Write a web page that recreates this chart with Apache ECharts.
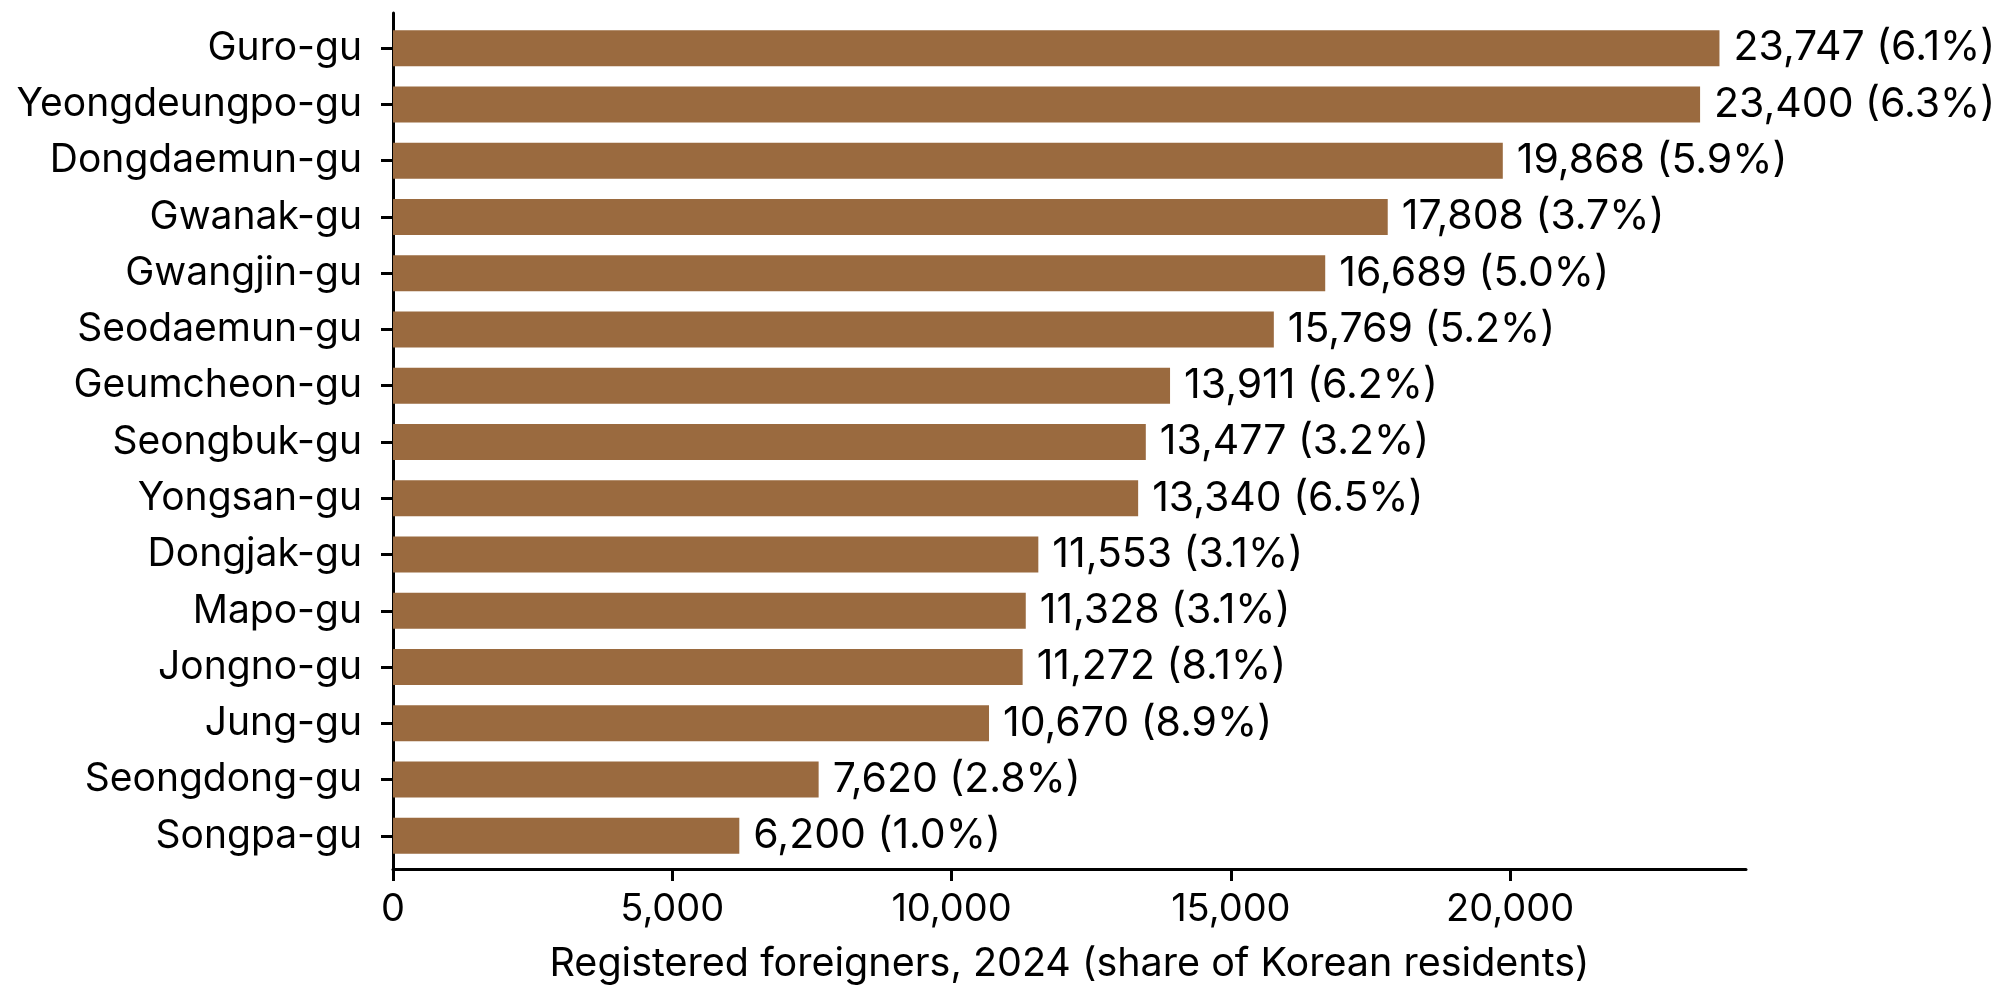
<!DOCTYPE html>
<html>
<head>
<meta charset="utf-8">
<script src="https://cdn.jsdelivr.net/npm/echarts@6/dist/echarts.min.js"></script>
<style>
  html, body { margin: 0; padding: 0; background: #fff; }
  #chart1 { width: 2007px; height: 1004px; }
</style>
</head>
<body>
<div id="chart1"></div>
<script>
// data
var districts = ['Guro-gu', 'Yeongdeungpo-gu', 'Dongdaemun-gu', 'Gwanak-gu', 'Gwangjin-gu',
  'Seodaemun-gu', 'Geumcheon-gu', 'Seongbuk-gu', 'Yongsan-gu', 'Dongjak-gu',
  'Mapo-gu', 'Jongno-gu', 'Jung-gu', 'Seongdong-gu', 'Songpa-gu'];
var foreigners = [23747, 23400, 19868, 17808, 16689, 15769, 13911, 13477, 13340, 11553,
  11328, 11272, 10670, 7620, 6200];
var shares = [6.1, 6.3, 5.9, 3.7, 5.0, 5.2, 6.2, 3.2, 6.5, 3.1, 3.1, 8.1, 8.9, 2.8, 1.0];
var xTicks = [0, 5000, 10000, 15000, 20000];
var xMax = 24222;

function commas(n) {
  return String(n).replace(/\B(?=(\d{3})+(?!\d))/g, ',');
}

var font = 'Inter';
var myChart = echarts.init(document.getElementById('chart1'));

var option = {
  animation: false,
  textStyle: { fontFamily: font, color: '#000' },
  grid: [
    // frame: axis lines, x ticks
    { left: 393, right: 261, top: 13, bottom: 135, containLabel: false },
    // bars + category labels
    { left: 393, right: 261, top: 20, bottom: 140, containLabel: false }
  ],
  xAxis: [
    {
      gridIndex: 0,
      type: 'value',
      min: 0,
      max: xMax,
      splitLine: { show: false },
      axisLine: { show: true, lineStyle: { color: '#000', width: 3 } },
      axisTick: { show: true, length: 12, lineStyle: { color: '#000', width: 3 }, customValues: xTicks },
      axisLabel: {
        customValues: xTicks,
        margin: 22,
        fontSize: 38,
        fontFamily: font,
        color: '#000',
        formatter: function (v) { return commas(v); }
      },
      name: 'Registered foreigners, 2024 (share of Korean residents)',
      nameLocation: 'middle',
      nameGap: 75,
      nameTextStyle: { fontSize: 39.5, fontFamily: font, color: '#000' }
    },
    {
      gridIndex: 1,
      type: 'value',
      min: 0,
      max: xMax,
      show: false
    }
  ],
  yAxis: [
    {
      gridIndex: 0,
      type: 'value',
      min: 0,
      max: 1,
      splitLine: { show: false },
      axisLine: { show: true, lineStyle: { color: '#000', width: 3 } },
      axisTick: { show: false },
      axisLabel: { show: false }
    },
    {
      gridIndex: 1,
      type: 'category',
      inverse: true,
      data: districts,
      axisLine: { show: false },
      axisTick: { show: true, alignWithLabel: true, length: 12, lineStyle: { color: '#000', width: 3 } },
      axisLabel: { margin: 31, fontSize: 39, fontFamily: font, color: '#000' }
    }
  ],
  series: [
    {
      type: 'bar',
      xAxisIndex: 1,
      yAxisIndex: 1,
      data: foreigners,
      barWidth: 36,
      itemStyle: { color: '#9a6a3f' },
      label: {
        show: true,
        position: 'right',
        distance: 14,
        fontSize: 41,
        fontFamily: font,
        color: '#000',
        formatter: function (p) {
          return commas(p.value) + ' (' + shares[p.dataIndex].toFixed(1) + '%)';
        }
      }
    }
  ]
};

myChart.setOption(option);
</script>
</body>
</html>
